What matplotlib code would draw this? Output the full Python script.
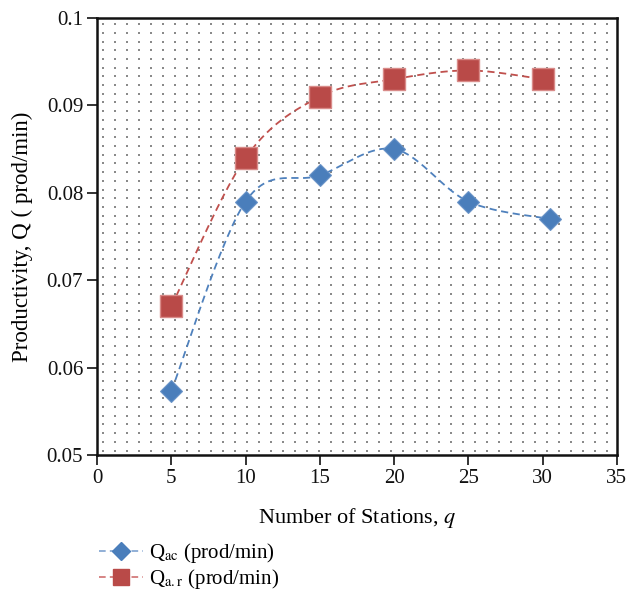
import numpy as np
import matplotlib
matplotlib.use("Agg")
import matplotlib.pyplot as plt
from matplotlib.lines import Line2D

plt.rcParams["font.family"] = ["Liberation Serif", "DejaVu Serif"]
plt.rcParams["mathtext.fontset"] = "stix"

# data
stations_ac = [5, 10, 15, 20, 25, 30.5]
q_ac = [0.0573, 0.079, 0.082, 0.085, 0.079, 0.077]
stations_ar = [5, 10, 15, 20, 25, 30]
q_ar = [0.067, 0.084, 0.091, 0.093, 0.094, 0.093]

x_ticks = [0, 5, 10, 15, 20, 25, 30, 35]
y_ticks = [0.05, 0.06, 0.07, 0.08, 0.09, 0.1]
y_ticklabels = ["0.05", "0.06", "0.07", "0.08", "0.09", "0.1"]

XLIM = (0, 35)
YLIM = (0.05, 0.1)

BLUE_LINE = "#4f81bd"
BLUE = "#4a7ebb"
RED_LINE = "#c0504d"
RED = "#b94a48"


def smooth(xs, ys, ax_w=520.0, ax_h=437.0, n=30):
    """Excel-style smoothed line (Catmull-Rom bezier) computed in pixel space."""
    px = (np.asarray(xs, float) - XLIM[0]) / (XLIM[1] - XLIM[0]) * ax_w
    py = (np.asarray(ys, float) - YLIM[0]) / (YLIM[1] - YLIM[0]) * ax_h
    pts = np.column_stack([px, py])
    pad = np.vstack([pts[0], pts, pts[-1]])
    out = []
    for i in range(len(pts) - 1):
        p0, p1, p2, p3 = pad[i], pad[i + 1], pad[i + 2], pad[i + 3]
        c1 = p1 + (p2 - p0) / 6.0
        c2 = p2 - (p3 - p1) / 6.0
        t = np.linspace(0, 1, n)[:, None]
        seg = ((1 - t) ** 3) * p1 + 3 * ((1 - t) ** 2) * t * c1 \
            + 3 * (1 - t) * t ** 2 * c2 + t ** 3 * p2
        out.append(seg if i == 0 else seg[1:])
    out = np.vstack(out)
    sx = out[:, 0] / ax_w * (XLIM[1] - XLIM[0]) + XLIM[0]
    sy = out[:, 1] / ax_h * (YLIM[1] - YLIM[0]) + YLIM[0]
    return sx, sy


fig = plt.figure(figsize=(6.26, 5.94), dpi=100)
ax = fig.add_axes([0.155, 0.234, 0.8305, 0.7357])

# dotted pattern background
gx, gy = np.meshgrid(np.arange(6, 520, 12) / 520.0, np.arange(4.5, 437, 8.7) / 437.0)
ax.scatter(gx.ravel(), gy.ravel(), s=0.7, c="#8a8a8a", marker="s", linewidths=0,
           transform=ax.transAxes, zorder=0)

sx, sy = smooth(stations_ac, q_ac)
ax.plot(sx, sy, color=BLUE_LINE, lw=1.3, dashes=(4, 2.5), zorder=2)
sx, sy = smooth(stations_ar, q_ar)
ax.plot(sx, sy, color=RED_LINE, lw=1.3, dashes=(4, 2.5), zorder=2)

ax.plot(stations_ac, q_ac, ls="none", marker="D", ms=11, color=BLUE,
        mec="#6a94c8", mew=0.8, zorder=3)
ax.plot(stations_ar, q_ar, ls="none", marker="s", ms=15.5, color=RED,
        mec="#d98b89", mew=1.0, zorder=3)

ax.set_xlim(*XLIM)
ax.set_ylim(*YLIM)
ax.set_xticks(x_ticks)
ax.set_yticks(y_ticks)
ax.set_yticklabels(y_ticklabels)
ax.tick_params(axis="both", direction="out", length=7, width=1.2, labelsize=15,
               colors="#111111", pad=3)
for s in ax.spines.values():
    s.set_linewidth(1.8)
    s.set_color("#111111")

ax.set_xlabel("Number of Stations, $q$", fontsize=16, labelpad=13)
ax.set_ylabel("Productivity, Q ( prod/min)", fontsize=16.5, labelpad=10)

handles = [
    Line2D([], [], color="#7ea2d0", lw=1.2, dashes=(4, 2.5), marker="D", ms=9,
           mfc=BLUE, mec=BLUE),
    Line2D([], [], color="#d07070", lw=1.2, dashes=(4, 2.5), marker="s", ms=12,
           mfc=RED, mec=RED),
]
labels = [r"Q$_{\mathrm{ac}}$ (prod/min)", r"Q$_{\mathrm{a.r}}$ (prod/min)"]
fig.legend(handles, labels, loc="upper left", bbox_to_anchor=(0.145, 0.103),
           frameon=False, fontsize=15, handlelength=2.1, handletextpad=0.3,
           labelspacing=0.1, borderaxespad=0)

fig.savefig("out.png", dpi=100)
